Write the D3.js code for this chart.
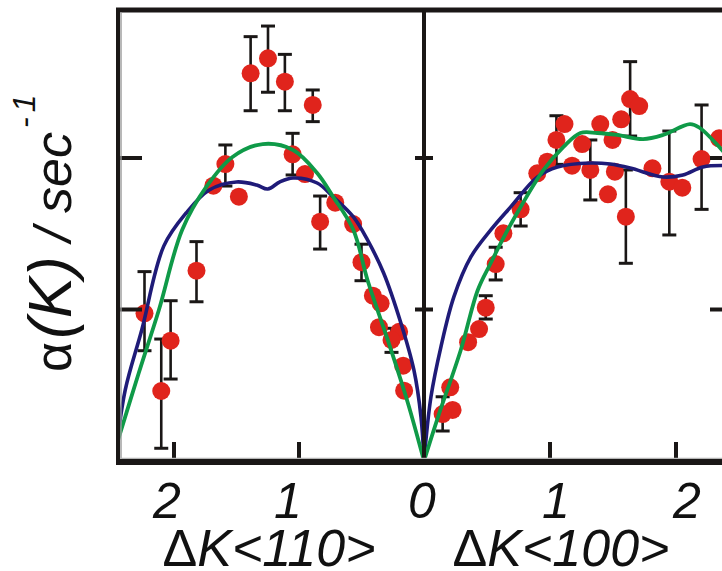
<!DOCTYPE html>
<html>
<head>
<meta charset="utf-8">
<script src="https://cdn.jsdelivr.net/npm/d3@7"></script>
<style>
  html, body { margin: 0; padding: 0; background: #fff; }
  svg { display: block; }
  text { font-family: "Liberation Sans", Arial, sans-serif; fill: #111; }
</style>
</head>
<body>
<svg id="chart" width="722" height="571"></svg>
<script>
// ---- measured decay rates along the two azimuths ----
// <110> direction (left panel, K grows to the left)
const k110 = [1.387, 1.248, 1.113, 0.890, 1.589, 1.685, 1.481, 1.051, 0.952, 0.710, 0.831, 0.567,
              0.500, 0.409, 0.347, 0.360, 0.199, 0.260, 0.167, 0.159, 1.820, 2.236, 2.027, 2.102];
const a110 = [2.559, 2.658, 2.504, 2.350, 1.960, 1.817, 1.745, 2.024, 1.894, 1.705, 1.580, 1.564,
              1.312, 1.091, 1.041, 0.883, 0.853, 0.799, 0.629, 0.464, 1.256, 0.975, 0.794, 0.462];
// error bars: [K, low, high]
const err110 = [
  [1.387, 2.312, 2.801], [1.248, 2.434, 2.871], [1.113, 2.312, 2.684], [0.890, 2.240, 2.449],
  [1.589, 1.815, 2.086], [1.051, 1.888, 2.163], [0.831, 1.399, 1.749], [0.500, 1.190, 1.431],
  [0.260, 0.717, 0.876], [1.820, 1.051, 1.448], [2.236, 0.728, 1.250], [2.027, 0.541, 1.058],
  [2.102, 0.084, 0.805]
];

// <100> direction (right panel)
const k100 = [1.115, 1.051, 0.978, 0.899, 0.767, 0.630, 1.175, 1.255, 1.320, 1.399, 1.496, 1.460,
              1.515, 1.565, 1.636, 1.708, 1.602, 1.813, 1.947, 2.050, 2.203, 2.342, 0.569, 0.490,
              0.437, 0.350, 0.208, 0.227, 0.148];
const a100 = [2.224, 2.119, 1.976, 1.899, 1.661, 1.503, 1.949, 2.092, 1.921, 2.224, 2.119, 1.760,
              1.910, 2.255, 2.389, 2.343, 1.613, 1.932, 1.844, 1.804, 1.993, 2.130, 1.300, 1.012,
              0.871, 0.784, 0.486, 0.337, 0.310];
const err100 = [
  [1.051, 1.958, 2.279], [0.767, 1.551, 1.771], [1.320, 1.723, 2.119], [1.636, 2.145, 2.636],
  [1.602, 1.305, 1.921], [1.947, 1.492, 2.178], [2.203, 1.661, 2.350], [0.569, 1.195, 1.411],
  [0.490, 0.937, 1.091], [0.148, 0.198, 0.424]
];

// ---- model curves ----
const modelA110 = [[2.47, 0.02], [2.390, 0.469], [2.258, 0.865], [2.081, 1.420], [1.903, 1.637],
  [1.718, 1.789], [1.500, 1.842], [1.339, 1.822], [1.250, 1.795], [1.153, 1.842], [1.048, 1.868],
  [0.855, 1.835], [0.726, 1.743], [0.565, 1.611], [0.452, 1.459], [0.323, 1.241], [0.185, 0.911],
  [0.081, 0.601], [0.024, 0.290], [0, 0]];
const modelB110 = [[2.449, 0.134], [2.282, 0.581], [2.121, 0.997], [1.935, 1.525], [1.742, 1.809],
  [1.532, 2.007], [1.290, 2.092], [1.048, 2.053], [0.855, 1.901], [0.726, 1.743], [0.565, 1.525],
  [0.452, 1.195], [0.290, 0.799], [0.129, 0.383], [0, 0]];
const modelA100 = [[0, 0], [0.055, 0.422], [0.134, 0.752], [0.237, 1.083], [0.372, 1.347],
  [0.530, 1.525], [0.688, 1.677], [0.901, 1.875], [1.059, 1.941], [1.320, 1.967], [1.478, 1.960],
  [1.636, 1.934], [1.897, 1.875], [2.055, 1.888], [2.213, 1.941], [2.40, 1.950]];
const modelB100 = [[0, 0], [0.111, 0.290], [0.292, 0.733], [0.427, 1.129], [0.530, 1.307],
  [0.664, 1.525], [0.767, 1.677], [0.949, 1.921], [1.107, 2.073], [1.241, 2.165], [1.375, 2.165],
  [1.534, 2.152], [1.739, 2.125], [1.897, 2.152], [2.111, 2.224], [2.190, 2.198], [2.40, 2.020]];

const xTicks = [1, 2];
const yTicks = [1, 2];
const xTickValues110 = [2, 1, 0];
const xTickLabels110 = ["2", "1", "0"];
const xTickValues100 = [1, 2];
const xTickLabels100 = ["1", "2"];

// ---- layout ----
const svg = d3.select("#chart");
const W = 722, H = 571;
const yAxisY = 462;     // baseline of the plot
const topY = 10;
const leftX = 118;

const xL = d3.scaleLinear().domain([0, 2]).range([424, 174]);
const xR = d3.scaleLinear().domain([0, 2]).range([424, 676]);
const y = d3.scaleLinear().domain([0, 3]).range([461, 6.5]);

const red = "#e0241c", green = "#0f9a48", navy = "#1f1b78", ink = "#1a1716";

svg.append("rect").attr("width", W).attr("height", H).attr("fill", "#fff");

// clipping for each panel
const defs = svg.append("defs");
defs.append("clipPath").attr("id", "clipL").append("rect")
  .attr("x", leftX).attr("y", 0).attr("width", 424 - leftX).attr("height", yAxisY);
defs.append("clipPath").attr("id", "clipR").append("rect")
  .attr("x", 424).attr("y", 0).attr("width", W - 424).attr("height", yAxisY);

function panel(g, x, ks, as, errs, mA, mB) {
  // error bars
  const eb = g.append("g").attr("stroke", ink);
  errs.forEach(([k, lo, hi]) => {
    const cx = x(k);
    eb.append("line").attr("x1", cx).attr("x2", cx).attr("y1", y(lo)).attr("y2", y(hi))
      .attr("stroke-width", 2.6);
    [lo, hi].forEach(v => {
      eb.append("line").attr("x1", cx - 7).attr("x2", cx + 7).attr("y1", y(v)).attr("y2", y(v))
        .attr("stroke-width", 3);
    });
  });
  // data points
  g.append("g").selectAll("circle").data(ks.map((k, i) => [k, as[i]])).join("circle")
    .attr("cx", d => x(d[0])).attr("cy", d => y(d[1])).attr("r", 9).attr("fill", red);
  // model curves
  const line = d3.line().x(d => x(d[0])).y(d => y(d[1])).curve(d3.curveCatmullRom.alpha(0.5));
  g.append("path").attr("d", line(mA)).attr("fill", "none").attr("stroke", navy)
    .attr("stroke-width", 3.6).attr("stroke-linejoin", "round");
  g.append("path").attr("d", line(mB)).attr("fill", "none").attr("stroke", green)
    .attr("stroke-width", 3.8).attr("stroke-linejoin", "round");
}

panel(svg.append("g").attr("clip-path", "url(#clipL)"), xL, k110, a110, err110, modelA110, modelB110);
panel(svg.append("g").attr("clip-path", "url(#clipR)"), xR, k100, a100, err100, modelA100, modelB100);

// ---- frame ----
const frame = svg.append("g").attr("stroke", ink).attr("fill", "none");
frame.append("line").attr("x1", leftX - 2).attr("x2", W).attr("y1", topY).attr("y2", topY).attr("stroke-width", 5);
frame.append("line").attr("x1", leftX - 2).attr("x2", W).attr("y1", yAxisY).attr("y2", yAxisY).attr("stroke-width", 6);
frame.append("line").attr("x1", leftX).attr("x2", leftX).attr("y1", topY - 2).attr("y2", yAxisY + 3).attr("stroke-width", 4);
frame.append("line").attr("x1", 424).attr("x2", 424).attr("y1", topY).attr("y2", yAxisY).attr("stroke-width", 4);
// faint inner rule along the left and bottom edges
svg.append("line").attr("x1", leftX + 3).attr("x2", leftX + 3).attr("y1", topY + 2).attr("y2", yAxisY - 3)
  .attr("stroke", "#9a9a9a").attr("stroke-width", 1.4);
svg.append("line").attr("x1", leftX + 3).attr("x2", W).attr("y1", yAxisY - 3.6).attr("y2", yAxisY - 3.6)
  .attr("stroke", "#b5b5b5").attr("stroke-width", 1.2);

// y ticks on left edge, both sides of the divider and on right edge
yTicks.forEach(v => {
  const yy = y(v);
  frame.append("line").attr("x1", leftX).attr("x2", 142).attr("y1", yy).attr("y2", yy).attr("stroke-width", 4);
  frame.append("line").attr("x1", 415).attr("x2", 433).attr("y1", yy).attr("y2", yy).attr("stroke-width", 4);
  frame.append("line").attr("x1", 710).attr("x2", W).attr("y1", yy).attr("y2", yy).attr("stroke-width", 4);
});
// x ticks
xTicks.forEach(v => {
  [xL(v), xR(v)].forEach(px => {
    frame.append("line").attr("x1", px).attr("x2", px).attr("y1", yAxisY).attr("y2", 442).attr("stroke-width", 4);
  });
});

// ---- tick labels (hand-nudged horizontally, as typeset) ----
const tl = svg.append("g").attr("font-size", 50).attr("font-style", "italic").attr("text-anchor", "middle");
const nudge110 = [-7, -11, -2];
const nudge100 = [6, 11];
xTickValues110.forEach((v, i) => {
  tl.append("text").attr("x", xL(v)).attr("dx", nudge110[i]).attr("y", 518).text(xTickLabels110[i]);
});
xTickValues100.forEach((v, i) => {
  tl.append("text").attr("x", xR(v)).attr("dx", nudge100[i]).attr("y", 518).text(xTickLabels100[i]);
});

// ---- axis titles ----
function kTitle(cx, dir) {
  const t = svg.append("text").attr("x", cx).attr("y", 566).attr("font-size", 52).attr("text-anchor", "middle");
  t.append("tspan").text("Δ");
  t.append("tspan").attr("font-style", "italic").text("K<" + dir + ">");
}
kTitle(269, "110");
kTitle(561, "100");

const yt = svg.append("text").attr("transform", "translate(71,372) rotate(-90)")
  .attr("font-size", 52).attr("text-anchor", "start");
yt.append("tspan").text("α");
yt.append("tspan").attr("font-style", "italic").attr("font-size", 62).attr("dx", 3).text("(K)");
yt.append("tspan").attr("font-style", "italic").text(" / sec");
yt.append("tspan").attr("font-style", "italic").attr("font-size", 32).attr("dy", -36).attr("dx", 4).text("-");
yt.append("tspan").attr("font-style", "italic").attr("font-size", 32).attr("dx", 5).text("1");
</script>
</body>
</html>
